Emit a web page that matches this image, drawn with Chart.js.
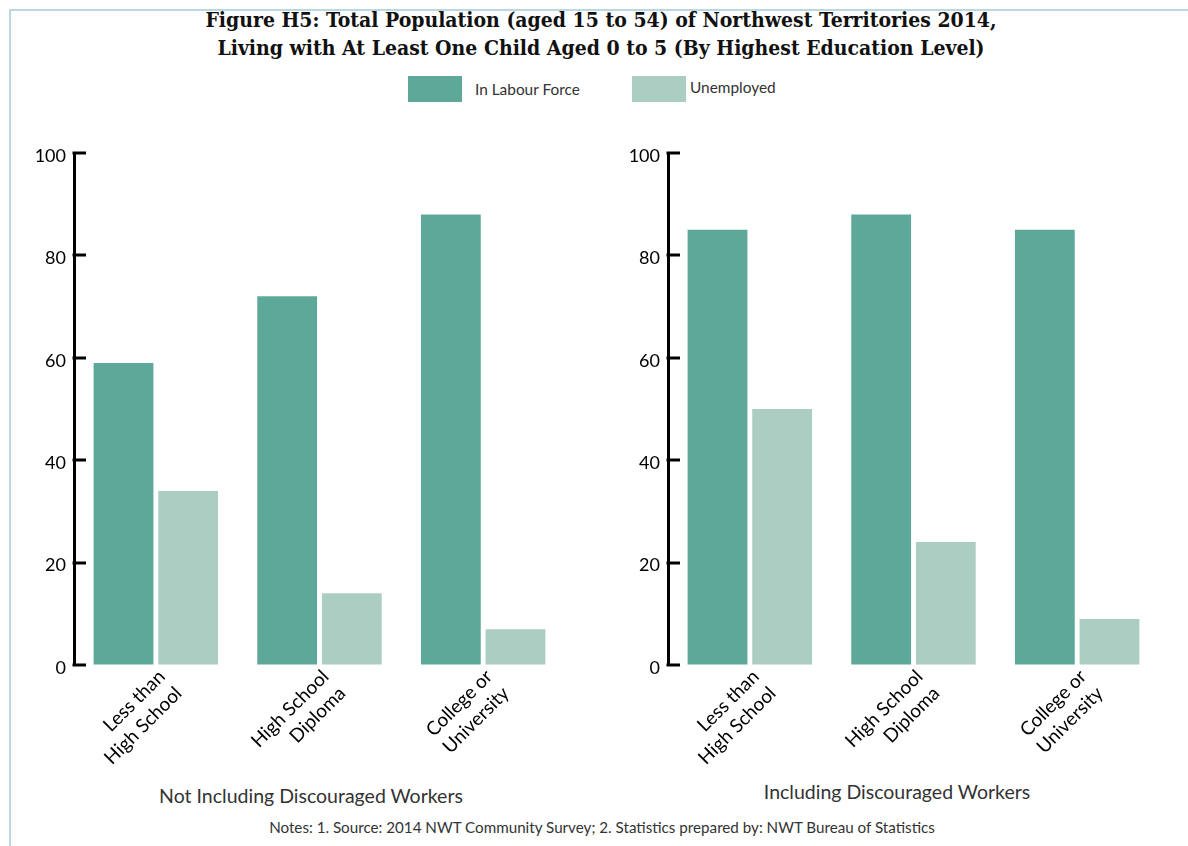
<!DOCTYPE html>
<html>
<head>
<meta charset="utf-8">
<script src="https://cdn.jsdelivr.net/npm/chart.js@4/dist/chart.umd.min.js"></script>
<style>
  html, body { margin: 0; padding: 0; background: #fff; }
  body { width: 1188px; height: 846px; position: relative; overflow: hidden; font-family: Lato, "Open Sans", sans-serif; }
  .frame { position: absolute; left: 9px; top: 9px; width: 1190px; height: 850px; border-top: 2px solid #b9d8e0; border-left: 2px solid #b9d8e0; }
  .title { position: absolute; left: 0; top: 6px; width: 1202px; text-align: center; font-family: "DejaVu Serif", serif; font-stretch: condensed; font-weight: bold; font-size: 21px; line-height: 28px; color: #111; }
  .legend { position: absolute; top: 76px; left: 0; width: 1188px; height: 28px; }
  .legend .box { position: absolute; top: 0; width: 54px; height: 26px; }
  .legend .lbl { position: absolute; font-size: 15.4px; color: #333; }
  .sub { position: absolute; font-size: 19.5px; color: #333; white-space: nowrap; transform: translateX(-50%); }
  .notes { position: absolute; top: 818px; left: 0; width: 1204px; text-align: center; font-size: 15.2px; color: #333; }
  canvas { position: absolute; }
</style>
</head>
<body>
<div class="frame"></div>
<div class="title">Figure H5: Total Population (aged 15 to 54) of Northwest Territories 2014,<br>Living with At Least One Child Aged 0 to 5 (By Highest Education Level)</div>
<div class="legend" id="legend"></div>
<canvas id="left" width="594" height="650" style="left:0;top:130px"></canvas>
<canvas id="right" width="594" height="650" style="left:594px;top:130px"></canvas>
<div class="sub" style="left:311px;top:784px">Not Including Discouraged Workers</div>
<div class="sub" style="left:897px;top:780px">Including Discouraged Workers</div>
<div class="notes">Notes: 1. Source: 2014 NWT Community Survey; 2. Statistics prepared by: NWT Bureau of Statistics</div>
<script>
// Education categories (two-line labels)
const categories = [
  ['Less than', 'High School'],
  ['High School', 'Diploma'],
  ['College or', 'University']
];
const seriesNames = ['In Labour Force', 'Unemployed'];
const seriesColors = ['#5da898', '#abcdc2'];

// Not including discouraged workers (%)
const exclLabourForce = [59, 72, 88];
const exclUnemployed = [34, 14, 7];

// Including discouraged workers (%)
const inclLabourForce = [85, 88, 85];
const inclUnemployed = [50, 24, 9];

const yTickValues = [0, 20, 40, 60, 80, 100];

// Legend boxes and labels
const legendSpec = [
  { boxLeft: 408, labelLeft: 475, labelTop: 4 },
  { boxLeft: 632, labelLeft: 690, labelTop: 2 }
];
const legendEl = document.getElementById('legend');
seriesNames.forEach((name, i) => {
  const b = document.createElement('div');
  b.className = 'box';
  b.style.left = legendSpec[i].boxLeft + 'px';
  b.style.background = seriesColors[i];
  legendEl.appendChild(b);
  const l = document.createElement('div');
  l.className = 'lbl';
  l.style.left = legendSpec[i].labelLeft + 'px';
  l.style.top = legendSpec[i].labelTop + 'px';
  l.textContent = name;
  legendEl.appendChild(l);
});

// Short inward tick marks on the y axis
const inwardTicks = {
  id: 'inwardTicks',
  afterDraw(chart) {
    const s = chart.scales.y;
    const ctx = chart.ctx;
    const x0 = s.right;
    ctx.save();
    ctx.strokeStyle = '#000';
    ctx.lineWidth = 3;
    ctx.lineCap = 'butt';
    s.ticks.forEach(t => {
      const y = Math.round(s.getPixelForValue(t.value));
      ctx.beginPath();
      ctx.moveTo(x0 - 1.5, y);
      ctx.lineTo(x0 + 12, y);
      ctx.stroke();
    });
    ctx.restore();
  }
};

function makeChart(id, labourForce, unemployed) {
  return new Chart(document.getElementById(id), {
    type: 'bar',
    data: {
      labels: categories,
      datasets: [
        { label: seriesNames[0], data: labourForce, backgroundColor: seriesColors[0], borderWidth: 0 },
        { label: seriesNames[1], data: unemployed, backgroundColor: seriesColors[1], borderWidth: 0 }
      ]
    },
    options: {
      responsive: false,
      animation: false,
      devicePixelRatio: 1,
      layout: { padding: { top: 23, right: 29, bottom: 0, left: 0 } },
      datasets: { bar: { categoryPercentage: 0.79, barPercentage: 0.925 } },
      plugins: { legend: { display: false }, tooltip: { enabled: false }, title: { display: false } },
      scales: {
        x: {
          grid: { display: false },
          border: { display: false },
          ticks: {
            autoSkip: false, maxRotation: 45, minRotation: 45,
            color: '#000', padding: -8, labelOffset: 6,
            font: { family: 'Lato', size: 19, lineHeight: 1.25 }
          },
          afterFit(scale) { scale.height = 115; }
        },
        y: {
          min: 0, max: 100,
          afterBuildTicks(scale) { scale.ticks = yTickValues.map(v => ({ value: v })); },
          grid: { drawOnChartArea: false, drawTicks: false },
          border: { display: true, color: '#000', width: 3 },
          ticks: { color: '#000', padding: 8, labelOffset: 3, font: { family: 'Lato', size: 18 } },
          afterFit(scale) { scale.width = 74; }
        }
      }
    },
    plugins: [inwardTicks]
  });
}

makeChart('left', exclLabourForce, exclUnemployed);
makeChart('right', inclLabourForce, inclUnemployed);
</script>
</body>
</html>
